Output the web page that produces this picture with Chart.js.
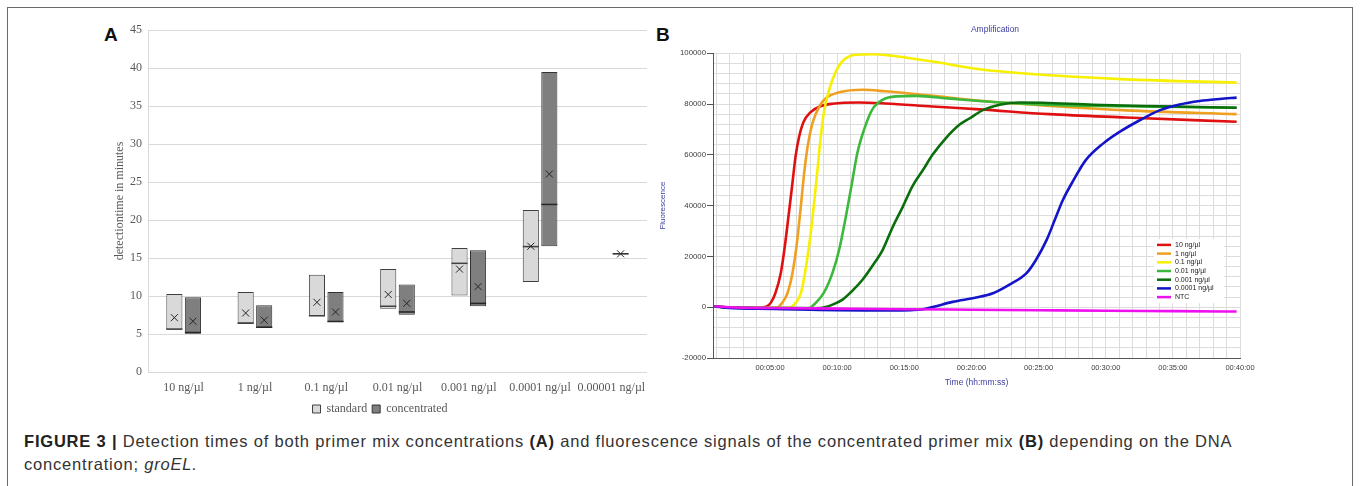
<!DOCTYPE html>
<html>
<head>
<meta charset="utf-8">
<script src="https://cdn.jsdelivr.net/npm/chart.js@4.4.1/dist/chart.umd.min.js"></script>
<style>
  html,body{margin:0;padding:0;background:#fff;}
  body{width:1360px;height:486px;overflow:hidden;position:relative;}
  #frame{position:absolute;left:7px;top:7px;width:1346px;height:520px;border:1px solid #6a6a6a;box-sizing:border-box;}
  .plabel{position:absolute;font:bold 19px/19px 'Liberation Sans',Arial,sans-serif;color:#111;}
  canvas{position:absolute;}
  #caption{position:absolute;left:24px;top:430px;width:1320px;font:16.5px/23px 'Liberation Sans',Arial,sans-serif;letter-spacing:0.8px;color:#333;white-space:nowrap;}
  #caption b{color:#222;}
</style>
</head>
<body>
<div id="frame"></div>
<div class="plabel" style="left:104px;top:25px;">A</div>
<div class="plabel" style="left:656px;top:25px;">B</div>
<canvas id="ca" width="547" height="415" style="left:113px;top:10px;"></canvas>
<canvas id="cb" width="690" height="390" style="left:650px;top:10px;"></canvas>
<div id="caption"><b>FIGURE 3 |</b> Detection times of both primer mix concentrations <b>(A)</b> and fluorescence signals of the concentrated primer mix <b>(B)</b> depending on the DNA<br>concentration; <i>groEL.</i></div>
<script>
// ---------- Panel A data ----------
const categoriesA = ['10 ng/µl','1 ng/µl','0.1 ng/µl','0.01 ng/µl','0.001 ng/µl','0.0001 ng/µl','0.00001 ng/µl'];
const stdLow    = [5.55, 6.30, 7.33, 8.32, 10.06, 11.85, null];
const stdHigh   = [10.25, 10.53, 12.79, 13.54, 16.31, 21.30, null];
const stdMedian = [5.65, 6.45, 7.40, 8.65, 14.30, 16.50, null];
const stdMean   = [7.15, 7.76, 9.17, 10.20, 13.54, 16.55, null];
const concLow    = [5.03, 5.78, 6.53, 7.52, 8.65, 16.55, 15.55];
const concHigh   = [9.83, 8.79, 10.53, 11.52, 16.03, 39.49, 15.55];
const concMedian = [5.20, 5.90, 6.65, 7.90, 9.03, 22.05, 15.55];
const concMean   = [6.68, 6.82, 7.90, 9.03, 11.24, 26.05, 15.55];

// ---------- Panel B data (time in minutes, fluorescence) ----------
const seriesLabelsB = ['10 ng/µl','1 ng/µl','0.1 ng/µl','0.01 ng/µl','0.001 ng/µl','0.0001 ng/µl','NTC'];
const t10 = [0.85,2,4,4.7,5.05,5.4,5.8,6.1,6.4,6.67,6.9,7.16,7.5,8.0,8.7,9.65,11.6,13.6,17.1,20.6,25.8,31.5,39.75];
const f10 = [300,-100,-300,200,1700,5600,13500,24000,37000,49000,59400,67000,73000,76700,79000,80100,80600,80200,79000,77900,76000,74700,73000];
const t1 = [0.85,2,4,5.5,5.9,6.3,6.67,6.97,7.24,7.54,7.8,8.16,8.66,9.15,10.15,11.9,13.6,17.1,20.6,26.6,31.5,39.75];
const f1 = [300,-100,-300,-200,1700,5600,13500,24000,37000,52800,63300,72500,79000,82300,84600,85600,85000,83200,81300,79000,77500,76000];
const t01 = [0.85,2,4,6.4,6.9,7.3,7.6,7.9,8.2,8.46,8.7,9.0,9.4,9.9,10.5,11.4,12.6,14.1,17.1,20.6,25.8,31.5,39.75];
const f01 = [300,-100,-300,-250,1700,5600,13500,24000,37000,50200,63300,76400,85600,92800,97400,99400,99600,99000,96700,93700,91300,89700,88400];
const t001 = [0.85,2,4,7.9,8.4,9.0,9.65,10.15,10.65,11.1,11.5,12.0,12.6,13.4,14.4,15.9,18.4,21.6,26.6,31.5,39.75];
const f001 = [300,-100,-300,-350,1700,5600,13500,22700,35800,48900,60700,69900,77700,81700,83000,83200,82100,80800,79500,79100,78500];
const t0001 = [0.85,2,4,8,8.9,9.65,10.4,11.1,11.9,12.6,13.4,14.1,14.9,15.6,16.4,17.1,18.1,19.1,19.85,20.85,22.1,23.6,25.3,29.05,34.0,39.75];
const f0001 = [300,-100,-300,-400,-200,1000,3000,6300,10900,16100,22700,31200,39700,47600,54100,60000,66600,71800,74300,77600,79700,80600,80500,79700,79100,78500];
const t00001 = [0.85,2,4,6,8,10,12,14,15.5,16.3,17.2,18.6,20.35,21.6,22.8,24.1,24.8,25.6,26.2,26.8,27.6,28.5,29.8,31.0,32.5,34.0,35.5,37.0,38.5,39.75];
const f00001 = [300,-300,-600,-800,-1000,-1200,-1300,-1300,-1150,-900,200,2100,3800,5500,8800,13400,18600,26500,34300,42100,50000,57800,64400,68900,73500,77500,79800,81200,82000,82500];
const tNTC = [0.85,2,5,10,15,20,25,30,35,39.75];
const fNTC = [400,0,-300,-550,-800,-1000,-1200,-1400,-1550,-1700];
const colorsB = ['#e01010','#f0a020','#f7f000','#3cb83c','#0a6e0a','#1414c8','#ee10ee'];

// ---------- Panel A chart ----------
const serif = "'Liberation Serif','Times New Roman',serif";
const boxExtras = {
  id:'boxExtras',
  afterDatasetsDraw(chart){
    const ctx = chart.ctx, y = chart.scales.y;
    chart.data.datasets.forEach((ds, di) => {
      const meta = chart.getDatasetMeta(di);
      meta.data.forEach((el, i) => {
        if (ds.medians[i] == null) return;
        const half = el.width/2;
        const ym = y.getPixelForValue(ds.medians[i]);
        ctx.save();
        ctx.strokeStyle = ds.medianColor; ctx.lineWidth = 1.5;
        ctx.beginPath(); ctx.moveTo(el.x-half, ym); ctx.lineTo(el.x+half, ym); ctx.stroke();
        const yv = y.getPixelForValue(ds.means[i]);
        const s = 3.5;
        ctx.strokeStyle = '#262626'; ctx.lineWidth = 1;
        ctx.beginPath();
        ctx.moveTo(el.x-s, yv-s); ctx.lineTo(el.x+s, yv+s);
        ctx.moveTo(el.x+s, yv-s); ctx.lineTo(el.x-s, yv+s);
        ctx.stroke();
        ctx.restore();
      });
    });
  }
};
new Chart(document.getElementById('ca'), {
  type:'bar',
  data:{
    labels: categoriesA,
    datasets:[
      {label:'standard', data: stdLow.map((v,i)=> v==null?null:[v, stdHigh[i]]), medians: stdMedian, means: stdMean,
       backgroundColor:'#d9d9d9', borderColor:'#404040', borderWidth:1, borderSkipped:false, medianColor:'#404040',
       categoryPercentage:0.52, barPercentage:0.87},
      {label:'concentrated', data: concLow.map((v,i)=> v==null?null:[v, concHigh[i]]), medians: concMedian, means: concMean,
       backgroundColor:'#7f7f7f', borderColor:'#333333', borderWidth:1, borderSkipped:false, medianColor:'#262626',
       categoryPercentage:0.52, barPercentage:0.87}
    ]
  },
  options:{
    responsive:false, animation:false, devicePixelRatio:1,
    layout:{padding:{left:0,right:13,top:20,bottom:0}},
    plugins:{
      legend:{position:'bottom', labels:{boxWidth:8, boxHeight:8, padding:5, color:'#595959', font:{family:serif, size:12}}},
      tooltip:{enabled:false}
    },
    scales:{
      x:{grid:{display:false}, border:{display:false},
         ticks:{color:'#595959', font:{family:serif,size:12}, padding:1, maxRotation:0, autoSkip:false},
         afterFit(s){ s.height = 26; }},
      y:{min:0, max:45,
         ticks:{stepSize:5, padding:6, color:'#595959', font:{family:serif,size:12}},
         grid:{color:'#d9d9d9', drawTicks:false},
         border:{display:true, color:'#d9d9d9'},
         title:{display:true, text:'detectiontime in minutes', color:'#595959', font:{family:serif,size:12}, padding:{top:0,bottom:0}},
         afterFit(s){ s.width = 35; }}
    }
  },
  plugins:[boxExtras]
});

// ---------- Panel B chart ----------
const sans = "'Liberation Sans',Arial,sans-serif";
const blueText = '#3c3ca0';
const timesB = [t10,t1,t01,t001,t0001,t00001,tNTC];
const valuesB = [f10,f1,f01,f001,f0001,f00001,fNTC];
function fmtTime(m){ const h = Math.floor(m/60), mm = Math.round(m%60); return String(h).padStart(2,'0')+':'+String(mm).padStart(2,'0')+':00'; }
const legendB = {
  id:'legendB',
  afterDatasetsDraw(chart){
    const ctx = chart.ctx, a = chart.chartArea;
    const x0 = a.right - 86, y0 = a.top + 186;
    ctx.save();
    ctx.fillStyle = '#fff';
    ctx.fillRect(x0, y0, 70, 64);
    ctx.font = '7px ' + sans; ctx.textBaseline = 'middle'; ctx.textAlign = 'left';
    chart.data.datasets.forEach((ds, i) => {
      const yy = y0 + 5.7 + 8.7*i;
      ctx.strokeStyle = ds.borderColor; ctx.lineWidth = 2.5;
      ctx.beginPath(); ctx.moveTo(x0+3, yy); ctx.lineTo(x0+17, yy); ctx.stroke();
      ctx.fillStyle = '#222'; ctx.fillText(ds.label, x0+21, yy);
    });
    ctx.restore();
  }
};
new Chart(document.getElementById('cb'), {
  type:'line',
  data:{
    datasets: seriesLabelsB.map((lab, i) => ({
      label: lab,
      data: timesB[i].map((t, j) => ({x:t, y:valuesB[i][j]})),
      borderColor: colorsB[i], backgroundColor: colorsB[i],
      borderWidth: 2.6, pointRadius: 0, fill:false,
      cubicInterpolationMode:'monotone', order: 7 - i
    }))
  },
  options:{
    responsive:false, animation:false, devicePixelRatio:1,
    layout:{padding:0},
    plugins:{
      legend:{display:false}, tooltip:{enabled:false},
      title:{display:true, text:'Amplification', color:blueText, font:{family:sans, size:8.5, weight:'normal'}, padding:{top:15, bottom:18}}
    },
    scales:{
      x:{type:'linear', min:0.75, max:40,
         ticks:{stepSize:1, includeBounds:false, autoSkip:false, maxRotation:0, padding:5, color:'#404040', font:{family:sans,size:7.5},
                callback:(v)=> (Math.abs(v%5) < 1e-9 ? fmtTime(v) : '')},
         grid:{color:'#dcdcdc', drawTicks:false},
         border:{display:true, color:'#555', width:1},
         title:{display:true, text:'Time (hh:mm:ss)', color:blueText, font:{family:sans,size:8.5}, padding:{top:0,bottom:12}},
         afterFit(s){ s.height = 42; }},
      y:{min:-20000, max:100000,
         ticks:{stepSize:4000, autoSkip:false, padding:1, color:'#404040', font:{family:sans,size:7.8},
                callback:(v)=> (v%20000===0 ? String(v) : '')},
         grid:{color:'#dcdcdc', drawTicks:true, tickLength:6,
               tickColor:(c)=> (c.tick && c.tick.value%20000===0 ? '#555' : 'rgba(0,0,0,0)')},
         border:{display:true, color:'#555', width:1},
         title:{display:true, text:'Fluorescence', color:blueText, font:{family:sans,size:8}, padding:{top:8,bottom:0}},
         afterFit(s){ s.width = 63; }},
      yr:{position:'right', display:true, grid:{display:false}, border:{display:false}, ticks:{display:false},
          afterFit(s){ s.width = 100; }}
    }
  },
  plugins:[legendB]
});
</script>
</body>
</html>
